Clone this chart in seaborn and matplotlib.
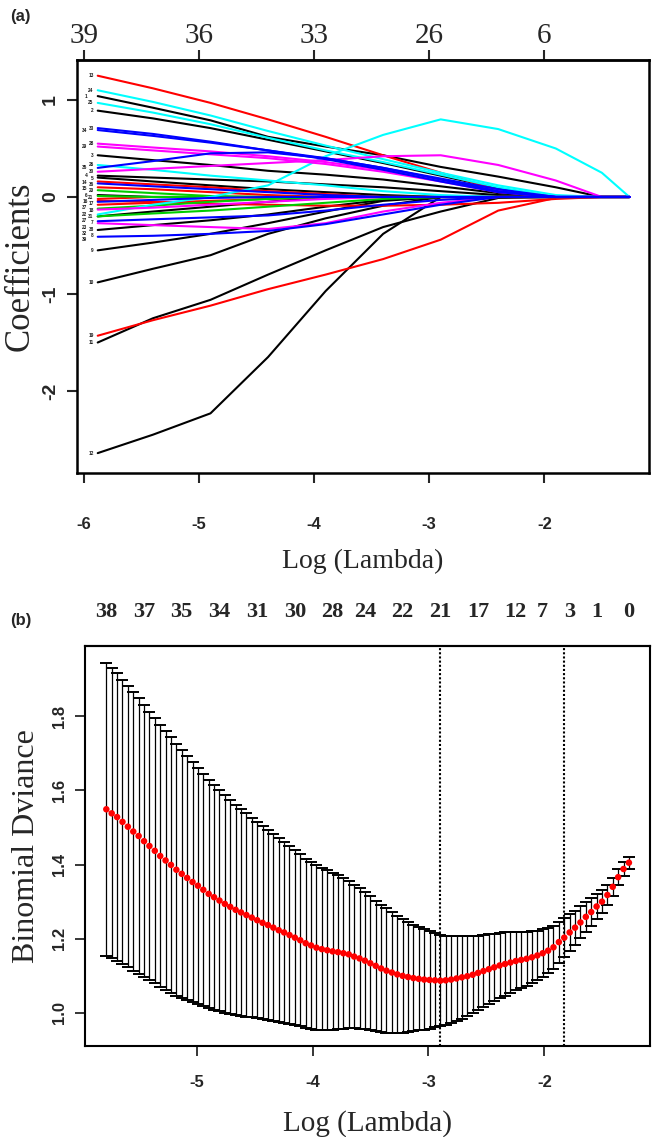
import numpy as np
import pandas as pd
import matplotlib
matplotlib.use("Agg")
import matplotlib.pyplot as plt
import seaborn as sns

sns.set_style("ticks")
plt.rcParams["font.family"] = ["Liberation Sans", "DejaVu Sans"]
plt.rcParams["axes.unicode_minus"] = False

SERIF = ["Liberation Serif", "DejaVu Serif"]
SANS = ["Liberation Sans", "DejaVu Sans"]

# ---------------- (a) LASSO coefficient paths ----------------
path_log_lambda = [-5.88, -5.4, -4.9, -4.4, -3.9, -3.4, -2.9, -2.4, -1.9, -1.5, -1.26]

coef_black = [
    [1.04, 0.92, 0.79, 0.62, 0.52, 0.43, 0.31, 0.21, 0.10, 0, 0],
    [0.89, 0.81, 0.71, 0.59, 0.47, 0.35, 0.22, 0.09, 0, 0, 0],
    [0.43, 0.38, 0.33, 0.27, 0.23, 0.18, 0.11, 0.04, 0, 0, 0],
    [0.22, 0.20, 0.18, 0.16, 0.13, 0.10, 0.06, 0.02, 0, 0, 0],
    [0.20, 0.16, 0.12, 0.08, 0.05, 0.02, 0, 0, 0, 0, 0],
    [0.02, 0, 0, 0, 0, 0, 0, 0, 0, 0, 0],
    [-0.20, -0.15, -0.10, -0.05, 0, 0, 0, 0, 0, 0, 0],
    [-0.34, -0.29, -0.24, -0.18, -0.10, -0.03, 0, 0, 0, 0, 0],
    [-0.55, -0.47, -0.38, -0.27, -0.15, -0.04, 0, 0, 0, 0, 0],
    [-0.88, -0.74, -0.60, -0.38, -0.22, -0.09, 0, 0, 0, 0, 0],
    [-1.50, -1.25, -1.06, -0.80, -0.55, -0.31, -0.15, -0.01, 0, 0, 0],
    [-2.64, -2.45, -2.23, -1.65, -0.97, -0.38, 0, 0, 0, 0, 0],
]
coef_red = [
    [1.25, 1.12, 0.97, 0.80, 0.62, 0.43, 0.25, 0.07, 0, 0, 0],
    [0.16, 0.13, 0.10, 0.06, 0.03, 0, 0, 0, 0, 0, 0],
    [0.10, 0.08, 0.05, 0.02, 0, 0, 0, 0, 0, 0, 0],
    [-0.02, 0, 0, 0, 0, 0, 0, 0, 0, 0, 0],
    [-0.04, -0.05, -0.07, -0.08, -0.09, -0.09, -0.08, -0.06, -0.02, 0, 0],
    [-0.08, -0.06, -0.04, -0.02, 0, 0, 0, 0, 0, 0, 0],
    [-1.43, -1.27, -1.12, -0.95, -0.80, -0.64, -0.44, -0.14, -0.01, 0, 0],
]
coef_green = [
    [0.07, 0.04, 0.01, 0, 0, 0, 0, 0, 0, 0, 0],
    [0.01, 0, 0, 0, 0, 0, 0, 0, 0, 0, 0],
    [-0.12, -0.09, -0.05, -0.02, 0, 0, 0, 0, 0, 0, 0],
    [-0.20, -0.17, -0.14, -0.10, -0.06, -0.02, 0, 0, 0, 0, 0],
]
coef_cyan = [
    [1.10, 0.98, 0.84, 0.68, 0.53, 0.39, 0.25, 0.12, 0.02, 0, 0],
    [0.97, 0.87, 0.75, 0.61, 0.48, 0.36, 0.23, 0.10, 0, 0, 0],
    [0.33, 0.28, 0.22, 0.17, 0.12, 0.06, 0.02, 0, 0, 0, 0],
    [-0.18, -0.08, 0.00, 0.12, 0.42, 0.64, 0.80, 0.70, 0.50, 0.25, 0],
]
coef_magenta = [
    [0.55, 0.51, 0.47, 0.42, 0.36, 0.28, 0.18, 0.07, 0, 0, 0],
    [0.52, 0.48, 0.44, 0.40, 0.34, 0.26, 0.16, 0.05, 0, 0, 0],
    [0.26, 0.29, 0.32, 0.35, 0.38, 0.42, 0.43, 0.33, 0.17, 0, 0],
    [-0.13, -0.11, -0.08, -0.05, -0.02, 0, 0, 0, 0, 0, 0],
    [-0.27, -0.29, -0.31, -0.33, -0.27, -0.15, -0.06, 0, 0, 0, 0],
]
coef_blue = [
    [0.71, 0.65, 0.57, 0.48, 0.39, 0.28, 0.16, 0.05, 0, 0, 0],
    [0.69, 0.63, 0.56, 0.48, 0.40, 0.30, 0.19, 0.08, 0, 0, 0],
    [0.30, 0.37, 0.45, 0.46, 0.40, 0.30, 0.18, 0.06, 0, 0, 0],
    [0.14, 0.11, 0.08, 0.05, 0.02, 0, 0, 0, 0, 0, 0],
    [-0.05, -0.03, -0.01, 0, 0, 0, 0, 0, 0, 0, 0],
    [-0.25, -0.23, -0.21, -0.19, -0.14, -0.08, -0.03, 0, 0, 0, 0],
    [-0.41, -0.40, -0.38, -0.35, -0.28, -0.18, -0.08, 0, 0, 0, 0],
]

a_top_ticks = [-6, -5, -4, -3, -2]
a_top_labels = ["39", "36", "33", "26", "6"]
a_bottom_ticks = [-6, -5, -4, -3, -2]
a_y_ticks = [-2, -1, 0, 1]

# ---------------- (b) cross-validated binomial deviance ----------------
cv_first_log_lambda = -5.78
cv_last_log_lambda = -1.27
cv_mean = [
    1.549, 1.538, 1.528, 1.515, 1.502, 1.489, 1.477, 1.463, 1.450, 1.437,
    1.423, 1.411, 1.399, 1.386, 1.375, 1.364, 1.353, 1.343, 1.332, 1.321,
    1.312, 1.303, 1.294, 1.286, 1.278, 1.271, 1.264, 1.257, 1.250, 1.243,
    1.237, 1.230, 1.223, 1.217, 1.210, 1.203, 1.196, 1.188, 1.182, 1.176,
    1.172, 1.169, 1.166, 1.164, 1.161, 1.158, 1.152, 1.147, 1.141, 1.134,
    1.127, 1.120, 1.114, 1.109, 1.104, 1.100, 1.097, 1.094, 1.092, 1.090,
    1.089, 1.088, 1.087, 1.088, 1.090, 1.093, 1.096, 1.099, 1.103, 1.108,
    1.113, 1.118, 1.123, 1.128, 1.132, 1.136, 1.140, 1.143, 1.146, 1.150,
    1.155, 1.161, 1.168, 1.177, 1.191, 1.203, 1.217, 1.230, 1.244, 1.259,
    1.272, 1.287, 1.300, 1.318, 1.340, 1.366, 1.388, 1.405,
]
cv_sd = [
    0.395, 0.391, 0.387, 0.383, 0.379, 0.375, 0.371, 0.367, 0.362, 0.357,
    0.353, 0.350, 0.345, 0.340, 0.334, 0.329, 0.323, 0.318, 0.313, 0.308,
    0.303, 0.298, 0.293, 0.288, 0.283, 0.279, 0.274, 0.269, 0.264, 0.260,
    0.256, 0.252, 0.248, 0.244, 0.240, 0.236, 0.232, 0.228, 0.225, 0.222,
    0.219, 0.216, 0.212, 0.208, 0.203, 0.198, 0.193, 0.189, 0.185, 0.180,
    0.176, 0.172, 0.168, 0.163, 0.158, 0.153, 0.148, 0.143, 0.139, 0.135,
    0.131, 0.127, 0.123, 0.120, 0.117, 0.114, 0.111, 0.108, 0.104, 0.100,
    0.097, 0.094, 0.091, 0.088, 0.085, 0.082, 0.079, 0.076, 0.073, 0.070,
    0.067, 0.064, 0.061, 0.058, 0.055, 0.052, 0.049, 0.046, 0.043, 0.040,
    0.037, 0.034, 0.031, 0.028, 0.025, 0.022, 0.019, 0.016,
]
# number of non-zero coefficients printed above selected lambdas
b_top_labels = ["38", "37", "35", "34", "31", "30", "28", "24", "22", "21",
                "17", "12", "7", "3", "1", "0"]
b_top_index = [0, 7, 14, 21, 28, 35, 42, 48, 55, 62, 69, 76, 81, 86, 91, 97]
idx_lambda_min = 62
idx_lambda_1se = 85
b_bottom_ticks = [-5, -4, -3, -2]
b_y_ticks = [1.0, 1.2, 1.4, 1.6, 1.8]

# ---------------- figure ----------------
W, H = 652, 1137
fig = plt.figure(figsize=(W / 100, H / 100), dpi=100)


def px_axes(left, top, right, bottom):
    return fig.add_axes([left / W, 1 - bottom / H, (right - left) / W, (bottom - top) / H])


# ---- panel (a)
ax1 = px_axes(77, 60, 649, 473)
group_colors = {"black": "black", "red": "#ff0000", "green": "#00cd00",
                "cyan": "#00ffff", "magenta": "#ff00ff", "blue": "#0000ff"}
groups = [("black", coef_black), ("red", coef_red), ("green", coef_green),
          ("cyan", coef_cyan), ("magenta", coef_magenta), ("blue", coef_blue)]

rows = []
palette = {}
starts = []
k = 0
for gname, paths in groups:
    for p in paths:
        k += 1
        vid = f"v{k}"
        palette[vid] = group_colors[gname]
        starts.append((k, p[0]))
        for x, y in zip(path_log_lambda, p):
            rows.append({"var": vid, "log_lambda": x, "coef": y})
df_paths = pd.DataFrame(rows)

sns.lineplot(data=df_paths, x="log_lambda", y="coef", hue="var", palette=palette,
             estimator=None, sort=False, legend=False, linewidth=1.5, ax=ax1)

# variable numbers at the left end of each path, stacked in two narrow columns
label_cols_x = [-5.915, -5.968]
min_gap = 0.066
last_y = [np.inf, np.inf]
for num, y0 in sorted(starts, key=lambda t: -t[1]):
    col = None
    for c in (0, 1):
        if last_y[c] - y0 >= min_gap:
            col = c
            break
    if col is None:
        col = int(np.argmax(last_y))
        y_pos = last_y[col] - min_gap
    else:
        y_pos = y0
    last_y[col] = y_pos
    ax1.text(label_cols_x[col], y_pos, str(num), fontsize=3.4, fontweight="bold",
             color="#1a1a1a", ha="right", va="center", family=SANS)

ax1.set_xlim(-6.06, -1.09)
ax1.set_ylim(-2.845, 1.412)
ax1.set_xticks(a_bottom_ticks, [str(t) for t in a_bottom_ticks])
ax1.set_yticks(a_y_ticks, [str(t) for t in a_y_ticks])
for lab in ax1.get_xticklabels():
    lab.set_fontweight("bold"); lab.set_fontsize(12); lab.set_family(SANS)
for lab in ax1.get_yticklabels():
    lab.set_fontweight("bold"); lab.set_fontsize(14); lab.set_family(SANS)
    lab.set_rotation(90); lab.set_va("center")
ax1.tick_params(axis="x", direction="out", length=7, width=1.5, pad=25)
ax1.tick_params(axis="y", direction="out", length=7, width=1.5, pad=6)
ax1.set_xlabel("Log (Lambda)", family=SERIF, fontsize=20, labelpad=12)
ax1.set_ylabel("Coefficients", family=SERIF, fontsize=25, labelpad=4)
for s in ax1.spines.values():
    s.set_visible(True); s.set_linewidth(1.8); s.set_color("black")

top_a = ax1.secondary_xaxis("top")
top_a.set_xticks(a_top_ticks, a_top_labels)
top_a.tick_params(direction="out", length=7, width=1.5, pad=1)
for lab in top_a.get_xticklabels():
    lab.set_family(SERIF); lab.set_fontsize(21)
top_a.spines["top"].set_linewidth(1.8)

fig.text(10 / W, 1 - 16 / H, "(a)", fontsize=12, fontweight="bold", family=SANS,
         ha="left", va="center")

# ---- panel (b)
ax2 = px_axes(85, 646, 650, 1046)
log_lambda = np.linspace(cv_first_log_lambda, cv_last_log_lambda, len(cv_mean))
ax2.errorbar(log_lambda, cv_mean, yerr=cv_sd, fmt="none", ecolor="black",
             elinewidth=0.9, capsize=4.2, capthick=1.4, zorder=2)
sns.scatterplot(x=log_lambda, y=cv_mean, color="#ff0000", s=22, edgecolor="none",
                ax=ax2, zorder=3)
for i in (idx_lambda_min, idx_lambda_1se):
    ax2.axvline(log_lambda[i], color="black", linestyle=(0, (1, 1)), linewidth=1.5, zorder=1)

ax2.set_xlim(-5.964, -1.088)
ax2.set_ylim(0.911, 1.989)
ax2.set_xticks(b_bottom_ticks, [str(t) for t in b_bottom_ticks])
ax2.set_yticks(b_y_ticks, [f"{t:.1f}" for t in b_y_ticks])
for lab in ax2.get_xticklabels():
    lab.set_fontweight("bold"); lab.set_fontsize(12); lab.set_family(SANS)
for lab in ax2.get_yticklabels():
    lab.set_fontweight("bold"); lab.set_fontsize(12); lab.set_family(SANS)
    lab.set_rotation(90); lab.set_va("center")
ax2.tick_params(axis="x", direction="out", length=7, width=1.3, pad=14)
ax2.tick_params(axis="y", direction="out", length=7, width=1.3, pad=6)
ax2.set_xlabel("Log (Lambda)", family=SERIF, fontsize=21, labelpad=14)
ax2.set_ylabel("Binomial Dviance", family=SERIF, fontsize=23, labelpad=8)
for s in ax2.spines.values():
    s.set_visible(True); s.set_linewidth(1.5); s.set_color("black")

top_b = ax2.secondary_xaxis("top")
top_b.set_xticks([log_lambda[i] for i in b_top_index], b_top_labels)
top_b.tick_params(length=0, pad=17)
for lab in top_b.get_xticklabels():
    lab.set_family(SERIF); lab.set_fontsize(16); lab.set_fontweight("bold")
top_b.spines["top"].set_linewidth(1.5)

fig.text(10 / W, 1 - 620 / H, "(b)", fontsize=12, fontweight="bold", family=SANS,
         ha="left", va="center")

fig.savefig("out.png", dpi=100, facecolor="white")
